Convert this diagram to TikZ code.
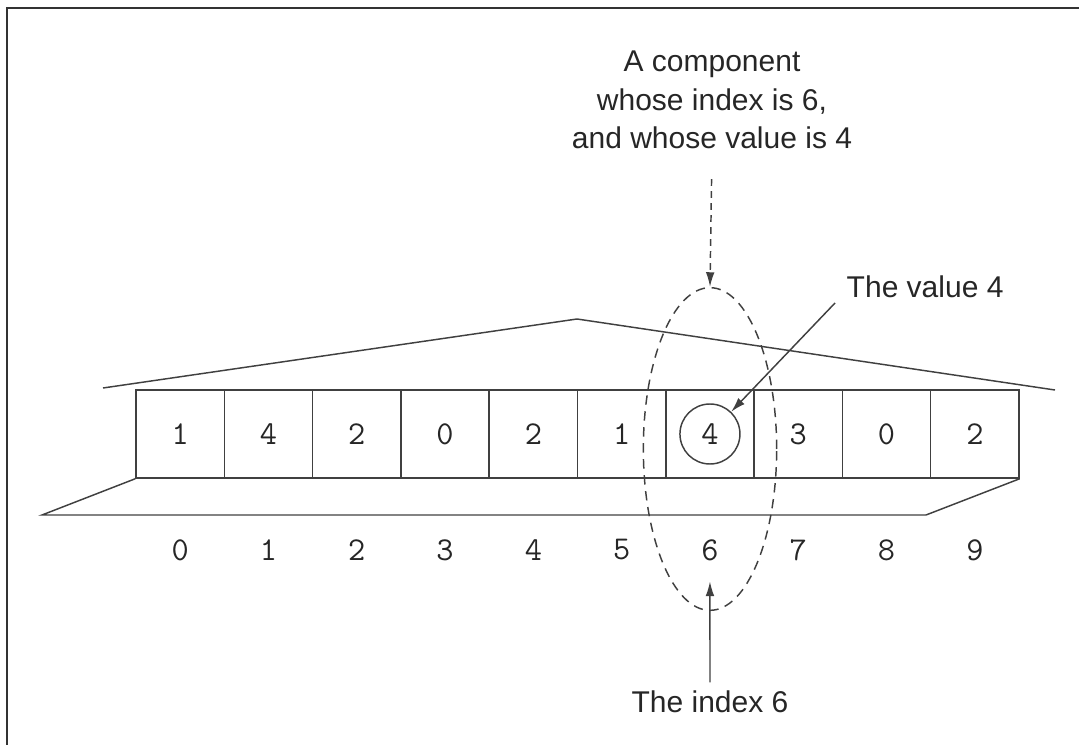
\documentclass[tikz,border=0pt]{standalone}
\usepackage{fontspec}
\setmainfont{Liberation Sans}
\usetikzlibrary{arrows.meta,shapes.geometric}

\begin{document}
\begin{tikzpicture}[
  x=0.75pt,y=-0.75pt,
  line width=1.1pt,draw=black!75,text=black!85,
  cell/.style={draw,minimum width=66.2pt,minimum height=66pt,inner sep=0pt,font=\ttfamily\fontsize{25}{30}\selectfont},
  index/.style={font=\ttfamily\fontsize{25}{30}\selectfont,inner sep=0pt,minimum height=44pt},
  label/.style={font=\fontsize{22.5}{29}\selectfont,align=center,inner sep=0pt},
  ptr/.style={-{Latex[length=11pt,width=6.5pt]},line width=1.1pt},
  dptr/.style={-{Latex[length=11pt,width=6.5pt]},dash pattern=on 5pt off 4pt,line width=1.1pt}
]
\useasboundingbox (0,0) rectangle (1079,745);
% frame
\draw[line width=1.6pt,black!80] (7,745) -- (7,8) -- (1079,8);

% roof and base
\draw (103,388) -- (577,319) -- (1055,390);

% the array
\foreach \v [count=\i from 0] in {1,4,2,0,2,1,4,3,0,2} {
  \node[cell] (c\i) at ({136+88.3*(\i+0.5)},434) {\ifnum\i=6 \else\v\fi};
  \node[index] (i\i) at ({136+88.3*(\i+0.5)},550) {\i};
}
\draw (c0.south west) -- (42,515) -- (926,515) -- (c9.south east);

% the component
\node[circle,draw,minimum size=45pt,inner sep=0pt,font=\ttfamily\fontsize{25}{30}\selectfont] (val) at (c6) {4};
\node[ellipse,draw,dash pattern=on 7pt off 5pt,minimum width=100pt,minimum height=242pt,inner sep=0pt] (comp) at (710,449) {};

% labels
\node[label] (desc) at (712,100) {A component\\whose index is 6,\\and whose value is 4};
\node[label,anchor=west] (vlab) at (846,287) {The value 4};
\node[label] (ilab) at (710,702) {The index 6};
\coordinate (vtail) at (835,303);

\draw[dptr,shorten <=22pt] (desc.south) -- (comp.north);
\draw[ptr] (vtail) -- (val);
\draw[ptr,shorten <=6pt,shorten >=1pt] (ilab.north) -- (i6.south);
\end{tikzpicture}
\end{document}
